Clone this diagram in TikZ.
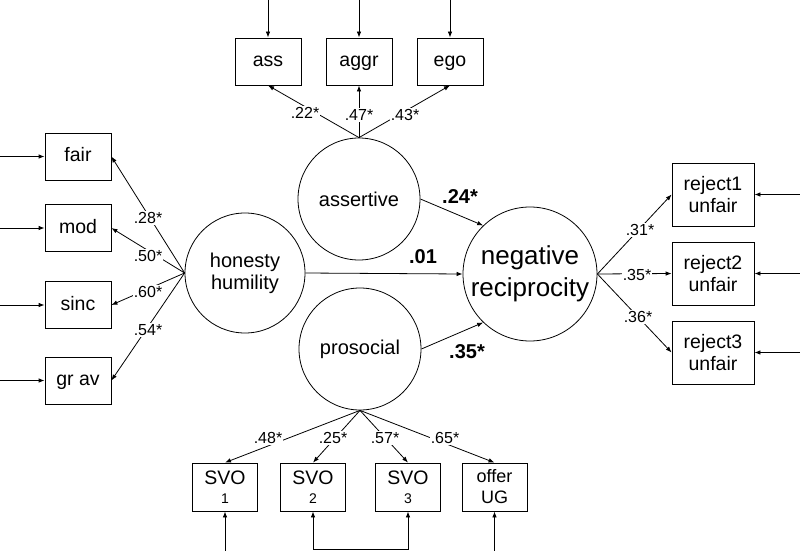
\documentclass[tikz,border=0pt]{standalone}
\usepackage{fontspec}
\setmainfont{Liberation Sans}
\usetikzlibrary{arrows.meta}
\begin{document}
\begin{tikzpicture}[x=1pt,y=-1pt,
  line width=0.8pt,
  arr/.style={-{Latex[length=6pt,width=4.5pt]}},
  darr/.style={{Latex[length=6pt,width=4.5pt]}-{Latex[length=6pt,width=4.5pt]}},
  box/.style={draw,rectangle,minimum width=66pt,minimum height=47pt,inner sep=0pt,align=center,font=\fontsize{19.5}{22}\selectfont},
  sbox/.style={box,text height=14pt,text depth=4pt},
  rbox/.style={box,minimum width=82pt,minimum height=63pt},
  bbox/.style={box,minimum width=65pt,minimum height=48pt},
  lat/.style={draw,circle,inner sep=0pt,align=center,font=\fontsize{20}{22}\selectfont},
  lab/.style={fill=white,inner sep=1.2pt,font=\fontsize{16}{18}\selectfont},
  blab/.style={inner sep=1pt,font=\fontsize{20}{22}\selectfont\bfseries}]
\useasboundingbox (0,0) rectangle (800,551);
% latent variables
\node[lat,minimum size=122pt] (as) at (359,199) {assertive};
\node[lat,minimum size=120pt] (hh) at (245,273) {honesty\\humility};
\node[lat,minimum size=122pt] (pr) at (360,349) {prosocial};
\node[lat,minimum size=134pt,font=\fontsize{26}{32}\selectfont] (nr) at (530,274) {negative\\reciprocity};
% top indicators
\node[sbox] (ass) at (268,61.5) {ass};
\node[sbox] (aggr) at (359,61.5) {aggr};
\node[sbox] (ego) at (450,61.5) {ego};
% left indicators
\node[sbox] (fair) at (78,156.5) {fair};
\node[sbox] (mod) at (78,228) {mod};
\node[sbox] (sinc) at (78,305) {sinc};
\node[sbox] (grav) at (78,380.5) {gr av};
% right indicators
\node[rbox] (r1) at (713,194.5) {reject1\\unfair};
\node[rbox] (r2) at (713,273.5) {reject2\\unfair};
\node[rbox] (r3) at (713,352.5) {reject3\\unfair};
% bottom indicators
\node[bbox] (s1) at (225,487) {SVO\\[-3pt]{\fontsize{14}{16}\selectfont 1}};
\node[bbox] (s2) at (313,487) {SVO\\[-3pt]{\fontsize{14}{16}\selectfont 2}};
\node[bbox] (s3) at (408,487) {SVO\\[-3pt]{\fontsize{14}{16}\selectfont 3}};
\node[bbox,font=\fontsize{18}{21}\selectfont] (ug) at (494.5,487) {offer\\UG};
% error terms
\coordinate (eass) at (268,0);
\coordinate (eaggr) at (359,0);
\coordinate (eego) at (450,0);
\coordinate (efair) at (0,156.5);
\coordinate (emod) at (0,228);
\coordinate (esinc) at (0,305);
\coordinate (egrav) at (0,380.5);
\coordinate (er1) at (800,194.5);
\coordinate (er2) at (800,273.5);
\coordinate (er3) at (800,352.5);
\coordinate (es1) at (225,551);
\coordinate (eug) at (494.5,551);
\draw[arr] (eass) -- (ass);
\draw[arr] (eaggr) -- (aggr);
\draw[arr] (eego) -- (ego);
\draw[arr] (efair) -- (fair);
\draw[arr] (emod) -- (mod);
\draw[arr] (esinc) -- (sinc);
\draw[arr] (egrav) -- (grav);
\draw[arr] (er1) -- (r1);
\draw[arr] (er2) -- (r2);
\draw[arr] (er3) -- (r3);
\draw[arr] (es1) -- (s1);
\draw[arr] (eug) -- (ug);
\draw[darr] (s2.south) -- ++(0,38) -| (s3.south);
% loadings
\draw[arr] (as.north) -- (ass.south);
\draw[arr] (as.north) -- (aggr.south);
\draw[arr] (as.north) -- (ego.south);
\draw[arr] (hh.west) -- (fair.east);
\draw[arr] (hh.west) -- (mod.east);
\draw[arr] (hh.west) -- (sinc.east);
\draw[arr] (hh.west) -- (grav.east);
\draw[arr] (nr.east) -- (r1.west);
\draw[arr] (nr.east) -- (r2.west);
\draw[arr] (nr.east) -- (r3.west);
\draw[arr] (pr.south) -- (s1.north);
\draw[arr] (pr.south) -- (s2.north);
\draw[arr] (pr.south) -- (s3.north);
\draw[arr] (pr.south) -- (ug.north);
% structural paths
\draw[arr] (as.east) -- (nr.134);
\draw[arr] (hh.east) -- (nr.west);
\draw[arr] (pr.east) -- (nr.226);
% loading labels
\node[lab] (l1) at (305,113) {.22*};
\node[lab] (l2) at (359,115) {.47*};
\node[lab] (l3) at (405,115) {.43*};
\node[lab] (l4) at (148,218) {.28*};
\node[lab] (l5) at (148,256) {.50*};
\node[lab] (l6) at (148,292) {.60*};
\node[lab] (l7) at (148,330) {.54*};
\node[lab] (l8) at (640,230) {.31*};
\node[lab] (l9) at (637,275) {.35*};
\node[lab] (l10) at (638,317) {.36*};
\node[lab] (l11) at (268,438) {.48*};
\node[lab] (l12) at (333,438) {.25*};
\node[lab] (l13) at (385,438) {.57*};
\node[lab] (l14) at (445,438) {.65*};
% structural labels
\node[blab] (b1) at (460,197) {.24*};
\node[blab] (b2) at (423,257) {.01};
\node[blab] (b3) at (467,352) {.35*};
\end{tikzpicture}
\end{document}
